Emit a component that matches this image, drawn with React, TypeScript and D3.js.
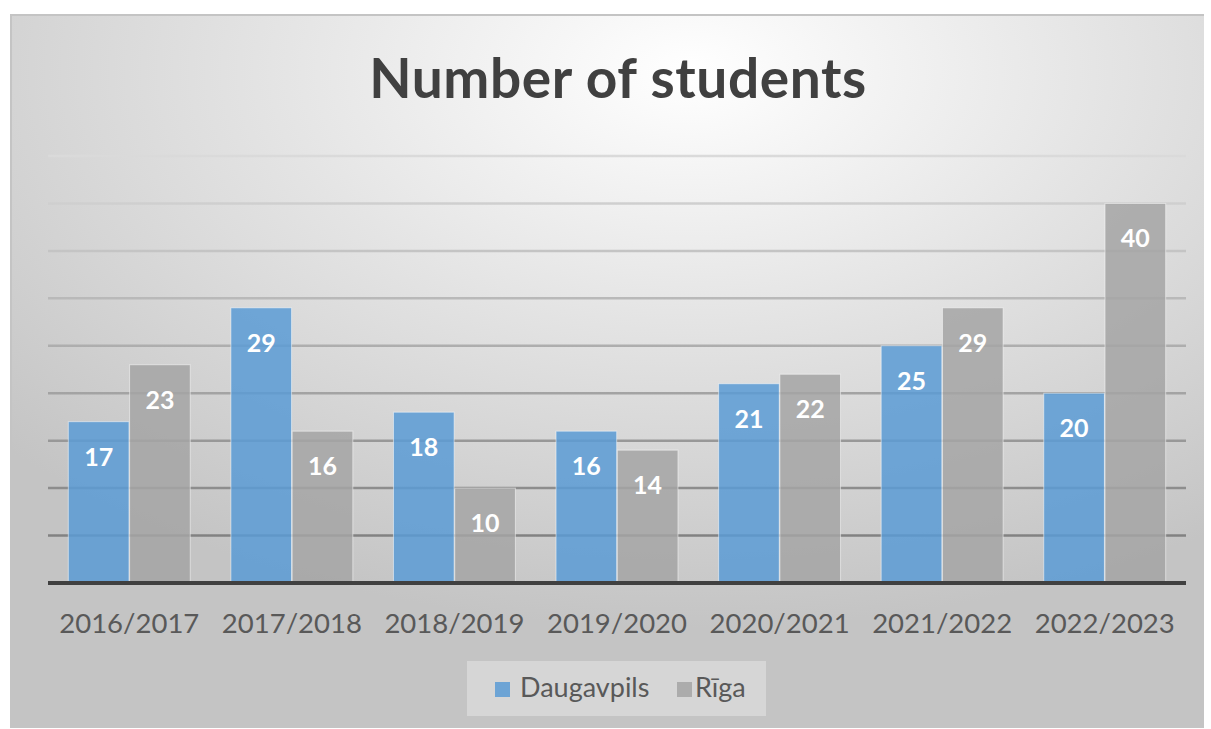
import React from "react";
import * as d3 from "d3";

// data
const years = ["2016/2017", "2017/2018", "2018/2019", "2019/2020", "2020/2021", "2021/2022", "2022/2023"];
const daugavpils = [17, 29, 18, 16, 21, 25, 20];
const riga = [23, 16, 10, 14, 22, 29, 40];
const seriesNames = ["Daugavpils", "Rīga"];
const gridTicks = [5, 10, 15, 20, 25, 30, 35, 40, 45];

const W = 1211;
const H = 729;
const font = "Lato, 'Open Sans', sans-serif";
const colors = ["#5b9bd5", "#a5a5a5"];

const App = () => {
  const x = d3.scaleBand<string>().domain(years).range([48, 1186]).paddingInner(0.25).paddingOuter(0.125);
  const inner = d3.scaleBand<string>().domain(seriesNames).range([0, x.bandwidth()]).paddingInner(0.01);
  const y = d3.scaleLinear().domain([0, 45]).range([583, 156]);
  const series = [daugavpils, riga];

  return (
    <svg width={W} height={H} style={{ position: "absolute", left: 0, top: 0 }}>
      <defs>
        <radialGradient id="bg" cx="0.57" cy="0.08" r="0.78" fx="0.57" fy="0.08">
          <stop offset="0" stopColor="#ffffff" />
          <stop offset="0.45" stopColor="#e4e4e4" />
          <stop offset="1" stopColor="#c4c4c4" />
        </radialGradient>
        <linearGradient id="grid" gradientUnits="userSpaceOnUse" x1="0" y1={y(45)} x2="0" y2={y(0)}>
          <stop offset="0" stopColor="#dadada" />
          <stop offset="1" stopColor="#777777" />
        </linearGradient>
      </defs>
      <rect x={0} y={0} width={W} height={H} fill="#ffffff" />
      <rect x={10} y={14} width={1194} height={714} fill="url(#bg)" />
      <line x1={10} x2={1204} y1={15} y2={15} stroke="#c4c4c4" strokeWidth={2} />
      <line x1={11} x2={11} y1={14} y2={728} stroke="#c4c4c4" strokeWidth={2} />

      <text x={618} y={98} textAnchor="middle" fontFamily={font} fontWeight="bold" fontSize={55} letterSpacing={0.6} fill="#404040">
        Number of students
      </text>

      {gridTicks.map((t) => (
        <line key={t} x1={48} x2={1186} y1={y(t)} y2={y(t)} stroke="url(#grid)" strokeWidth={2.5} />
      ))}

      {years.map((yr, i) => (
        <g key={yr} transform={`translate(${x(yr)},0)`}>
          {series.map((vals, s) => {
            const bx = inner(seriesNames[s]) as number;
            const by = y(vals[i]);
            return (
              <g key={s}>
                <rect
                  x={bx}
                  y={by}
                  width={inner.bandwidth()}
                  height={y(0) - by}
                  fill={colors[s]}
                  fillOpacity={0.85}
                  stroke="#ffffff"
                  strokeOpacity={0.5}
                  strokeWidth={1}
                />
                <text
                  x={bx + inner.bandwidth() / 2}
                  y={by + 44}
                  textAnchor="middle"
                  fontFamily={font}
                  fontWeight="bold"
                  fontSize={25}
                  fill="#ffffff"
                >
                  {vals[i]}
                </text>
              </g>
            );
          })}
          <text
            x={x.bandwidth() / 2}
            y={633}
            textAnchor="middle"
            fontFamily={font}
            fontSize={27.5}
            fill="#595959"
          >
            {yr}
          </text>
        </g>
      ))}

      <line x1={48} x2={1186} y1={y(0)} y2={y(0)} stroke="#404040" strokeWidth={4} />

      <rect x={467} y={661} width={299} height={55} fill="#ffffff" fillOpacity={0.3} />
      <rect x={495} y={682} width={15} height={15} fill={colors[0]} fillOpacity={0.85} />
      <text x={520} y={697} fontFamily={font} fontSize={27} fill="#595959">{seriesNames[0]}</text>
      <rect x={677} y={682} width={15} height={15} fill={colors[1]} fillOpacity={0.85} />
      <text x={695} y={697} fontFamily={font} fontSize={27} fill="#595959">{seriesNames[1]}</text>
    </svg>
  );
};

export default App;
